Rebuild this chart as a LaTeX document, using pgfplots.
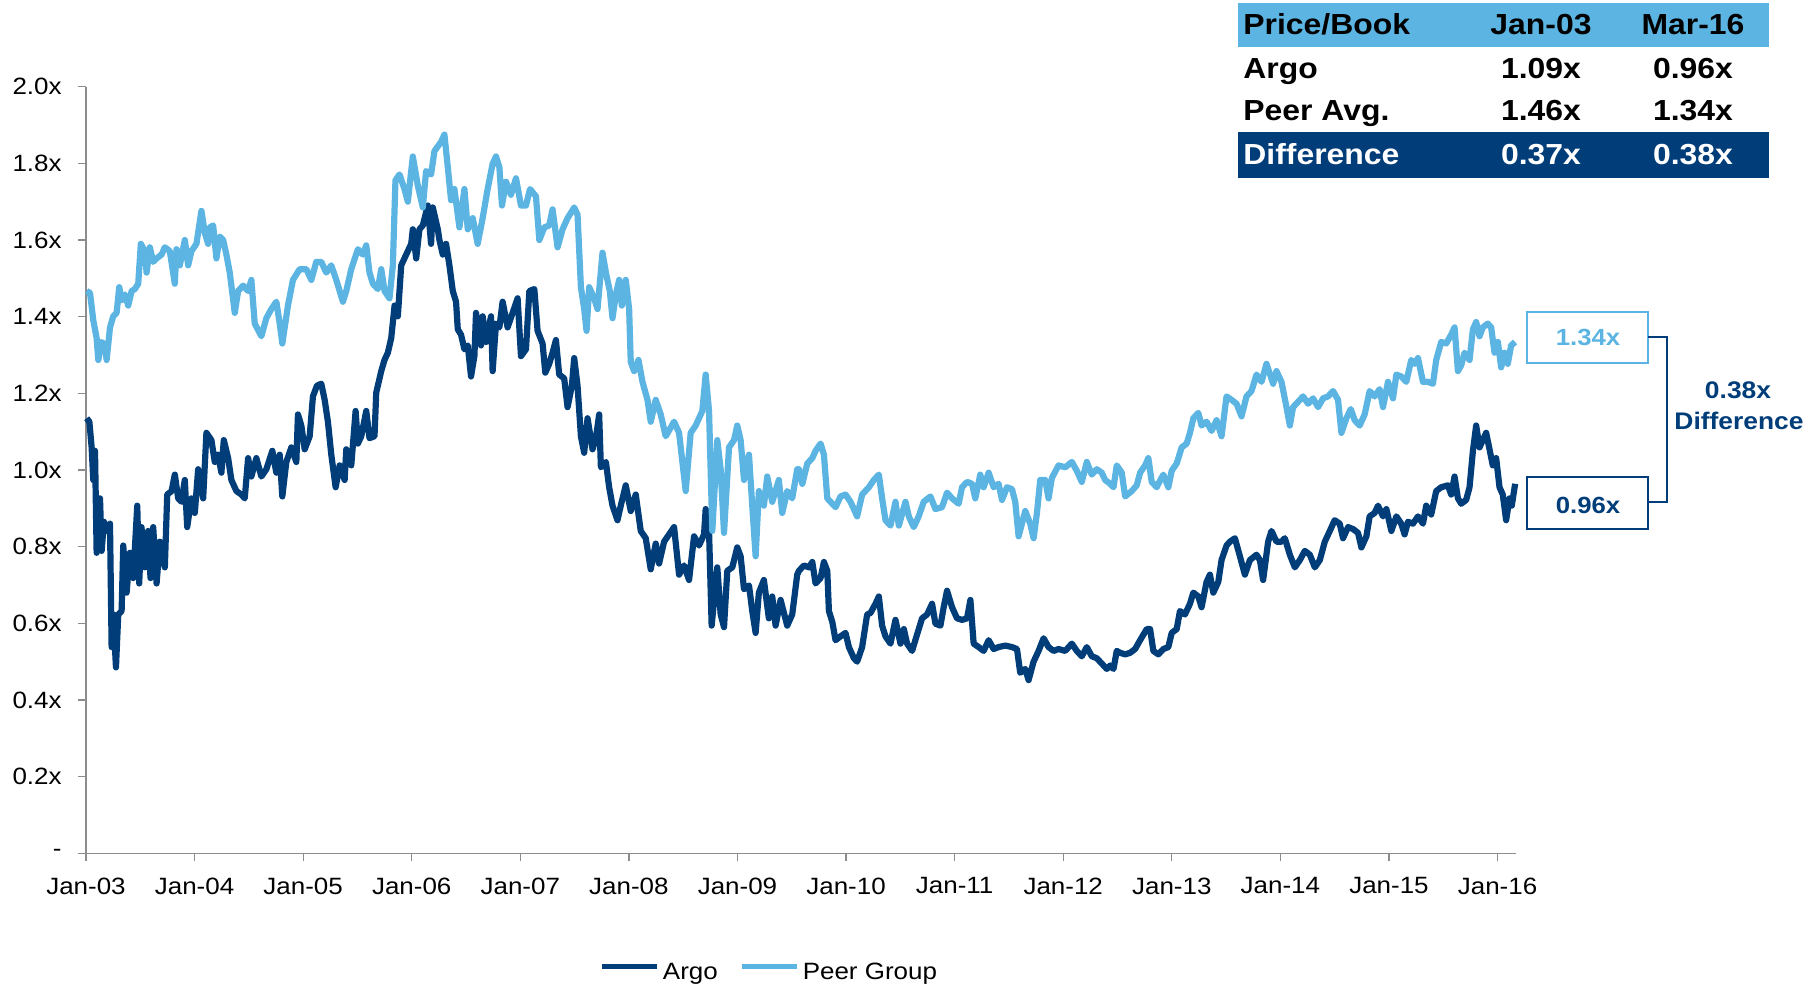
\documentclass[border=0pt]{standalone}
\usepackage{pgfplots}
\pgfplotsset{compat=1.18}
\usepackage{pgfplotstable}
\usepackage{fontspec}
\setmainfont{Liberation Sans}[FakeStretch=1.1]
\definecolor{argoblue}{HTML}{003D79}
\definecolor{peerblue}{HTML}{5BB4E1}
\definecolor{axisgray}{HTML}{8C8C8C}
\newcommand\tickfont{\fontsize{11.8}{14}\selectfont}
\newcommand\tabfont{\fontsize{14.5}{17}\selectfont\bfseries}
\newcommand\boxfont{\fontsize{11.7}{14}\selectfont\bfseries}
\newcommand\difffont{\fontsize{12}{14}\selectfont\bfseries}

\pgfplotstableread{
t pb
0.006 1.135
0.031 1.126
0.052 1.059
0.067 0.974
0.083 1.050
0.098 0.784
0.129 0.926
0.144 0.789
0.165 0.865
0.190 0.841
0.221 0.860
0.236 0.538
0.251 0.623
0.276 0.485
0.297 0.623
0.328 0.632
0.343 0.803
0.374 0.680
0.404 0.784
0.435 0.718
0.472 0.907
0.490 0.704
0.511 0.851
0.542 0.746
0.573 0.841
0.594 0.718
0.619 0.851
0.650 0.704
0.680 0.813
0.726 0.746
0.748 0.936
0.788 0.945
0.818 0.988
0.849 0.926
0.879 0.917
0.910 0.974
0.932 0.851
0.971 0.926
1.002 0.888
1.033 1.002
1.079 0.926
1.109 1.097
1.155 1.078
1.186 1.021
1.217 1.040
1.247 0.993
1.269 1.078
1.309 1.031
1.339 0.974
1.385 0.945
1.431 0.936
1.462 0.926
1.493 1.031
1.523 0.983
1.569 1.031
1.615 0.983
1.661 1.002
1.716 1.050
1.753 0.993
1.784 1.040
1.808 0.931
1.845 1.021
1.891 1.059
1.937 1.021
1.952 1.145
1.983 1.116
2.014 1.054
2.060 1.088
2.090 1.192
2.127 1.220
2.167 1.225
2.198 1.183
2.228 1.126
2.259 1.040
2.299 0.955
2.336 1.012
2.382 0.974
2.397 1.054
2.443 1.012
2.483 1.154
2.504 1.069
2.535 1.088
2.581 1.154
2.611 1.083
2.657 1.088
2.673 1.202
2.719 1.258
2.749 1.287
2.780 1.306
2.811 1.344
2.842 1.429
2.872 1.401
2.903 1.534
2.949 1.562
2.995 1.590
3.010 1.628
3.041 1.552
3.071 1.628
3.102 1.638
3.148 1.690
3.178 1.590
3.194 1.685
3.240 1.628
3.255 1.600
3.286 1.562
3.316 1.590
3.347 1.534
3.378 1.467
3.408 1.439
3.424 1.367
3.454 1.353
3.485 1.315
3.516 1.325
3.546 1.244
3.577 1.297
3.592 1.410
3.638 1.325
3.653 1.401
3.684 1.334
3.730 1.401
3.745 1.258
3.776 1.382
3.807 1.372
3.837 1.439
3.883 1.372
3.929 1.410
3.975 1.448
4.006 1.297
4.052 1.315
4.083 1.467
4.129 1.472
4.159 1.363
4.205 1.330
4.230 1.254
4.266 1.277
4.297 1.306
4.328 1.339
4.358 1.249
4.404 1.239
4.435 1.164
4.475 1.220
4.496 1.292
4.527 1.220
4.558 1.088
4.588 1.045
4.619 1.135
4.665 1.054
4.696 1.083
4.726 1.145
4.742 1.007
4.788 1.021
4.818 0.955
4.849 0.907
4.895 0.869
4.925 0.907
4.971 0.960
5.017 0.893
5.063 0.936
5.109 0.841
5.155 0.822
5.201 0.741
5.247 0.808
5.278 0.756
5.324 0.813
5.370 0.832
5.416 0.851
5.462 0.727
5.508 0.751
5.554 0.713
5.600 0.827
5.646 0.803
5.692 0.832
5.707 0.898
5.738 0.841
5.762 0.594
5.814 0.746
5.845 0.623
5.876 0.590
5.906 0.737
5.952 0.746
5.998 0.798
6.029 0.775
6.060 0.689
6.106 0.699
6.136 0.632
6.167 0.575
6.197 0.680
6.243 0.713
6.289 0.613
6.320 0.670
6.351 0.594
6.397 0.661
6.458 0.594
6.504 0.623
6.550 0.727
6.566 0.737
6.612 0.751
6.658 0.746
6.689 0.760
6.719 0.704
6.765 0.718
6.796 0.760
6.827 0.737
6.842 0.632
6.873 0.604
6.903 0.556
6.949 0.566
6.995 0.575
7.026 0.538
7.072 0.509
7.102 0.500
7.148 0.538
7.194 0.623
7.225 0.627
7.271 0.651
7.302 0.670
7.332 0.594
7.363 0.566
7.409 0.547
7.455 0.609
7.501 0.547
7.532 0.585
7.562 0.547
7.608 0.528
7.654 0.571
7.700 0.613
7.746 0.623
7.792 0.651
7.823 0.599
7.869 0.594
7.899 0.642
7.930 0.685
7.976 0.642
8.022 0.613
8.068 0.609
8.114 0.613
8.145 0.661
8.175 0.547
8.221 0.538
8.267 0.528
8.313 0.556
8.359 0.533
8.405 0.538
8.466 0.542
8.528 0.538
8.574 0.533
8.604 0.471
8.650 0.481
8.681 0.452
8.727 0.500
8.773 0.528
8.819 0.561
8.865 0.538
8.911 0.528
8.957 0.533
9.018 0.528
9.079 0.547
9.125 0.528
9.171 0.514
9.217 0.538
9.263 0.514
9.309 0.509
9.355 0.495
9.401 0.481
9.432 0.490
9.463 0.481
9.493 0.528
9.524 0.523
9.570 0.519
9.616 0.523
9.662 0.533
9.708 0.556
9.769 0.585
9.800 0.585
9.830 0.528
9.876 0.519
9.922 0.533
9.968 0.538
9.999 0.575
10.045 0.585
10.075 0.632
10.121 0.623
10.167 0.651
10.198 0.680
10.244 0.670
10.274 0.642
10.320 0.708
10.351 0.727
10.382 0.680
10.428 0.708
10.458 0.765
10.504 0.803
10.535 0.813
10.581 0.822
10.627 0.775
10.673 0.727
10.719 0.765
10.780 0.779
10.811 0.765
10.841 0.713
10.887 0.813
10.918 0.841
10.964 0.813
11.010 0.813
11.041 0.822
11.087 0.779
11.133 0.746
11.179 0.765
11.225 0.789
11.271 0.779
11.317 0.746
11.363 0.765
11.409 0.813
11.455 0.841
11.500 0.869
11.546 0.860
11.577 0.822
11.623 0.851
11.669 0.846
11.715 0.836
11.746 0.798
11.792 0.827
11.822 0.879
11.868 0.888
11.899 0.907
11.945 0.879
11.976 0.898
12.022 0.841
12.068 0.879
12.113 0.860
12.144 0.832
12.175 0.865
12.221 0.860
12.267 0.879
12.313 0.860
12.343 0.907
12.389 0.884
12.435 0.945
12.481 0.955
12.543 0.960
12.573 0.936
12.604 0.983
12.635 0.926
12.665 0.912
12.711 0.922
12.742 0.955
12.773 1.050
12.803 1.116
12.834 1.059
12.864 1.078
12.895 1.097
12.926 1.054
12.956 1.012
12.987 1.031
13.018 0.955
13.048 0.936
13.079 0.869
13.110 0.926
13.131 0.907
13.162 0.964
}\argotable

\pgfplotstableread{
t pb
0.006 1.467
0.037 1.462
0.067 1.391
0.098 1.344
0.113 1.287
0.144 1.334
0.175 1.325
0.190 1.287
0.221 1.372
0.251 1.401
0.282 1.410
0.306 1.477
0.328 1.443
0.358 1.458
0.389 1.429
0.420 1.467
0.450 1.472
0.481 1.486
0.505 1.590
0.542 1.571
0.558 1.515
0.588 1.581
0.619 1.543
0.650 1.552
0.696 1.562
0.726 1.581
0.772 1.571
0.818 1.486
0.833 1.576
0.864 1.534
0.910 1.600
0.941 1.534
0.971 1.571
1.017 1.590
1.063 1.676
1.094 1.619
1.125 1.590
1.140 1.633
1.171 1.638
1.201 1.552
1.232 1.609
1.263 1.600
1.293 1.562
1.324 1.515
1.370 1.410
1.401 1.467
1.447 1.481
1.493 1.467
1.523 1.496
1.554 1.382
1.615 1.349
1.661 1.396
1.707 1.420
1.753 1.439
1.784 1.382
1.808 1.330
1.860 1.429
1.906 1.496
1.968 1.524
2.029 1.524
2.075 1.496
2.121 1.543
2.167 1.543
2.213 1.515
2.259 1.534
2.305 1.496
2.366 1.439
2.397 1.467
2.443 1.524
2.504 1.576
2.550 1.562
2.581 1.586
2.611 1.515
2.642 1.486
2.688 1.472
2.719 1.524
2.750 1.467
2.795 1.448
2.826 1.534
2.850 1.756
2.887 1.771
2.933 1.733
2.964 1.700
3.010 1.818
3.056 1.742
3.102 1.685
3.132 1.780
3.178 1.771
3.209 1.832
3.270 1.856
3.301 1.875
3.332 1.790
3.362 1.704
3.393 1.733
3.439 1.633
3.485 1.733
3.516 1.628
3.562 1.657
3.607 1.590
3.653 1.657
3.699 1.733
3.745 1.799
3.776 1.818
3.807 1.790
3.831 1.690
3.868 1.752
3.914 1.718
3.960 1.761
4.006 1.690
4.052 1.690
4.089 1.733
4.144 1.714
4.175 1.600
4.221 1.633
4.266 1.638
4.297 1.680
4.343 1.581
4.389 1.628
4.435 1.657
4.496 1.685
4.527 1.666
4.558 1.477
4.588 1.420
4.610 1.363
4.634 1.477
4.680 1.448
4.711 1.420
4.757 1.567
4.788 1.515
4.824 1.467
4.849 1.396
4.880 1.458
4.910 1.496
4.935 1.429
4.971 1.496
5.002 1.420
5.017 1.282
5.048 1.258
5.088 1.287
5.125 1.230
5.171 1.183
5.201 1.126
5.247 1.183
5.293 1.145
5.339 1.088
5.416 1.126
5.462 1.097
5.523 0.945
5.569 1.097
5.615 1.116
5.676 1.154
5.707 1.249
5.738 1.154
5.768 0.841
5.814 1.078
5.845 1.002
5.876 0.836
5.922 1.059
5.968 1.078
5.998 1.116
6.029 1.078
6.060 0.974
6.106 1.040
6.136 0.907
6.167 0.775
6.197 0.945
6.243 0.907
6.274 0.983
6.320 0.917
6.381 0.974
6.412 0.888
6.458 0.945
6.504 0.926
6.550 1.002
6.566 1.002
6.597 0.964
6.643 1.017
6.689 1.031
6.719 1.050
6.765 1.069
6.796 1.040
6.827 0.926
6.873 0.912
6.903 0.903
6.949 0.931
6.995 0.936
7.041 0.917
7.072 0.898
7.102 0.879
7.148 0.936
7.210 0.955
7.256 0.974
7.302 0.988
7.332 0.926
7.363 0.869
7.409 0.855
7.455 0.917
7.486 0.855
7.547 0.917
7.578 0.879
7.623 0.851
7.669 0.879
7.715 0.917
7.777 0.931
7.823 0.898
7.884 0.903
7.930 0.941
7.976 0.926
8.037 0.912
8.068 0.955
8.114 0.969
8.160 0.964
8.190 0.926
8.236 0.988
8.267 0.955
8.313 0.993
8.359 0.955
8.405 0.964
8.436 0.922
8.482 0.955
8.528 0.950
8.558 0.917
8.589 0.827
8.620 0.860
8.650 0.893
8.696 0.860
8.727 0.822
8.758 0.888
8.788 0.974
8.834 0.974
8.865 0.926
8.895 0.979
8.957 1.012
9.018 1.007
9.079 1.021
9.125 0.998
9.171 0.969
9.217 1.021
9.263 0.988
9.309 1.002
9.355 0.993
9.386 0.974
9.432 0.964
9.463 0.955
9.493 1.012
9.539 0.993
9.570 0.931
9.631 0.945
9.677 0.960
9.708 0.993
9.754 1.012
9.784 1.031
9.815 0.969
9.861 0.955
9.876 0.964
9.922 0.988
9.968 0.955
9.999 0.998
10.045 1.017
10.091 1.059
10.137 1.069
10.167 1.097
10.198 1.135
10.244 1.149
10.274 1.116
10.320 1.126
10.366 1.102
10.412 1.130
10.458 1.088
10.504 1.192
10.550 1.183
10.596 1.173
10.642 1.140
10.688 1.192
10.734 1.206
10.780 1.249
10.826 1.230
10.872 1.277
10.933 1.225
10.964 1.258
11.010 1.230
11.056 1.164
11.087 1.116
11.117 1.164
11.163 1.178
11.209 1.192
11.255 1.173
11.301 1.187
11.347 1.164
11.393 1.187
11.439 1.192
11.485 1.206
11.531 1.183
11.562 1.097
11.608 1.135
11.648 1.159
11.684 1.130
11.730 1.116
11.776 1.145
11.822 1.206
11.868 1.192
11.914 1.211
11.945 1.164
11.991 1.230
12.037 1.187
12.068 1.249
12.113 1.244
12.159 1.230
12.205 1.287
12.236 1.277
12.267 1.292
12.313 1.230
12.359 1.230
12.405 1.225
12.435 1.287
12.481 1.334
12.527 1.330
12.573 1.353
12.604 1.372
12.635 1.258
12.665 1.273
12.696 1.306
12.742 1.287
12.773 1.367
12.803 1.386
12.834 1.349
12.864 1.372
12.910 1.382
12.941 1.372
12.972 1.306
13.003 1.334
13.033 1.268
13.064 1.306
13.094 1.277
13.125 1.325
13.162 1.334
}\peertable

\begin{document}
\begin{tikzpicture}
\useasboundingbox (0pt,0pt) rectangle (904pt,493pt);
\begin{axis}[
  at={(43pt,66.35pt)}, anchor=south west,
  width=715pt, height=383.3pt, scale only axis,
  xmin=0, xmax=13.17, ymin=0, ymax=2,
  axis x line*=bottom, axis y line*=left,
  axis line style={-, draw=axisgray, line width=0.65pt},
  xtick={0,1,2,3,4,5,6,7,8,9,10,11,12,13},
  xticklabels={Jan-03,Jan-04,Jan-05,Jan-06,Jan-07,Jan-08,Jan-09,Jan-10,Jan-11,Jan-12,Jan-13,Jan-14,Jan-15,Jan-16},
  ytick={0,0.2,0.4,0.6,0.8,1.0,1.2,1.4,1.6,1.8,2.0},
  yticklabels={-,0.2x,0.4x,0.6x,0.8x,1.0x,1.2x,1.4x,1.6x,1.8x,2.0x},
  tick align=outside, major tick length=4pt,
  tick style={draw=axisgray, line width=0.65pt},
  xticklabel style={font=\tickfont, anchor=north, inner sep=0pt, yshift=-8pt},
  yticklabel style={font=\tickfont, anchor=east, inner sep=0pt, xshift=-8pt},
  clip=false,
  legend columns=2,
  legend style={draw=none, fill=none, inner sep=0pt, outer sep=0pt,
    at={(axis description cs:0.3594,-0.1561)}, anchor=west,
    font=\tickfont,
    nodes={inner sep=0pt},
    /tikz/every odd column/.append style={column sep=1.5pt},
    /tikz/every even column/.append style={column sep=11pt}},
  legend image code/.code={\draw[#1, line width=2.5pt] (0pt,3pt) -- (27.5pt,3pt);},
]
\addplot[argoblue, line width=3.1pt, line join=round, no markers] table[x=t,y=pb] {\argotable};
\addlegendentry{Argo}
\addplot[peerblue, line width=3.1pt, line join=round, no markers] table[x=t,y=pb] {\peertable};
\addlegendentry{Peer Group}
\end{axis}

\begin{scope}[shift={(0pt,493pt)}, x=0.5pt, y=-0.5pt]
  \fill[peerblue] (1238,3) rectangle (1769,47);
  \fill[argoblue] (1238,132) rectangle (1769,178);
  \node[anchor=base west, inner sep=0pt, font=\tabfont] at (1243,35) {Price/Book};
  \node[anchor=base, inner sep=0pt, font=\tabfont] at (1541,35) {Jan-03};
  \node[anchor=base, inner sep=0pt, font=\tabfont] at (1693,35) {Mar-16};
  \node[anchor=base west, inner sep=0pt, font=\tabfont] at (1243,79) {Argo};
  \node[anchor=base, inner sep=0pt, font=\tabfont] at (1541,79) {1.09x};
  \node[anchor=base, inner sep=0pt, font=\tabfont] at (1693,79) {0.96x};
  \node[anchor=base west, inner sep=0pt, font=\tabfont] at (1243,121) {Peer Avg.};
  \node[anchor=base, inner sep=0pt, font=\tabfont] at (1541,121) {1.46x};
  \node[anchor=base, inner sep=0pt, font=\tabfont] at (1693,121) {1.34x};
  \node[anchor=base west, inner sep=0pt, font=\tabfont, text=white] at (1243,165) {Difference};
  \node[anchor=base, inner sep=0pt, font=\tabfont, text=white] at (1541,165) {0.37x};
  \node[anchor=base, inner sep=0pt, font=\tabfont, text=white] at (1693,165) {0.38x};
  \draw[peerblue, line width=0.9pt] (1527,312) rectangle (1648,363);
  \node[anchor=base, inner sep=0pt, font=\boxfont, text=peerblue] at (1588,346) {1.34x};
  \draw[argoblue, line width=0.9pt] (1527,477) rectangle (1648,529);
  \node[anchor=base, inner sep=0pt, font=\boxfont, text=argoblue] at (1588,513) {0.96x};
  \draw[argoblue, line width=0.8pt] (1648,337) -- (1667,337) -- (1667,502) -- (1648,502);
  \node[anchor=base, inner sep=0pt, font=\difffont, text=argoblue] at (1738,399) {0.38x};
  \node[anchor=base, inner sep=0pt, font=\difffont, text=argoblue] at (1739,430) {Difference};
\end{scope}
\end{tikzpicture}
\end{document}
